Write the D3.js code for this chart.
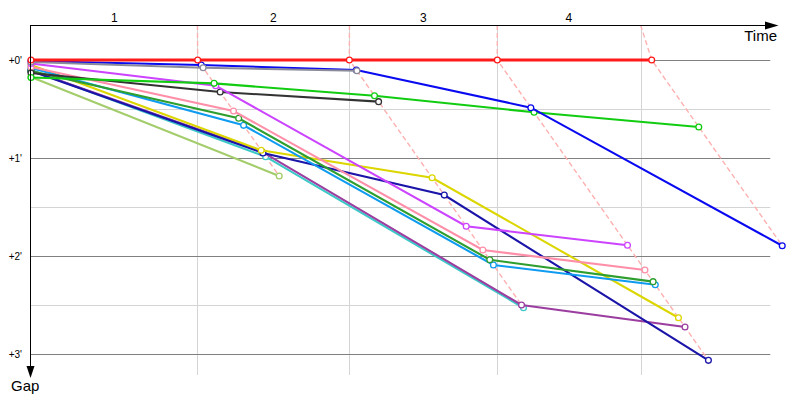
<!DOCTYPE html>
<html><head><meta charset="utf-8">
<script src="https://cdn.jsdelivr.net/npm/d3@7"></script>
<style>html,body{margin:0;padding:0;background:#fff;}svg{display:block;font-family:"Liberation Sans",Arial,sans-serif;}</style>
</head><body><svg id="c" width="800" height="400"></svg>
<script>
// ---- data (seconds) ----
const lapLabels = ["1", "2", "3", "4"];
const lapMarks = [145.0, 277.4, 406.2, 531.0];          // reference lap lines
const leaderTimes = [0, 145.2, 277.3, 406.2, 540.7];    // leader cumulative time at lap end
const gapTicks = [0, 60, 120, 180];
const gapTickLabels = ["+0'", "+1'", "+2'", "+3'"];
const gapMinor = [30, 90, 150];

const seriesColors = ["#a3cc6a", "#3cc8c8", "#9b3ea0", "#1a14a8", "#dcd600", "#0f9bf0",
  "#2e9e2e", "#ff8fa8", "#333333", "#cc44ff", "#11cc11", "#0a0af0", "#8a8a9a", "#ff1a1a"];
const seriesGaps = [
  [10.4, 71.0],                       // olive
  [6.1, 59.2, 151.7],                 // cyan
  [6.4, 56.3, 150.0, 163.5],          // purple
  [6.7, 56.9, 82.7, 183.9],           // navy
  [3.1, 55.3, 72.1, 157.8],           // yellow
  [4.9, 40.0, 125.5, 137.6],          // light blue
  [6.7, 35.7, 122.3, 135.7],          // dark green
  [4.3, 31.2, 116.3, 128.6],          // pink
  [8.0, 19.6, 25.5],                  // black
  [2.1, 15.7, 101.8, 113.4],          // magenta
  [10.7, 14.3, 21.9, 32.0, 41.0],     // green
  [0.6, 3.1, 6.1, 29.2, 113.7],       // blue
  [1.2, 4.7, 6.6],                    // gray
  [0, 0, 0, 0, 0]                     // red (leader)
];

// ---- scales ----
const svg = d3.select("#c");
const x = d3.scaleLinear().domain([0, 644]).range([31, 770.3]);
const y = d3.scaleLinear().domain([0, 180]).range([60, 354]);
const yTop = 25, yBottom = 375, xAxis = 30.5;
const crisp = v => Math.round(v) + 0.5;

const pts = seriesGaps.map(g => g.map((gap, k) => ({
  t: k === 0 ? 0 : leaderTimes[k] + gap, gap, k })));

// ---- grid ----
const grid = svg.append("g");
grid.selectAll("line.minor").data(gapMinor).join("line")
  .attr("x1", xAxis).attr("x2", x(644)).attr("y1", d => crisp(y(d))).attr("y2", d => crisp(y(d)))
  .attr("stroke", "#d4d4d4");
grid.selectAll("line.v").data(lapMarks).join("line")
  .attr("x1", d => crisp(x(d))).attr("x2", d => crisp(x(d))).attr("y1", yTop).attr("y2", yBottom)
  .attr("stroke", "#d4d4d4");
grid.selectAll("line.major").data(gapTicks).join("line")
  .attr("x1", xAxis).attr("x2", x(644)).attr("y1", d => crisp(y(d))).attr("y2", d => crisp(y(d)))
  .attr("stroke", "#808080");

// ---- lap connector dashed lines ----
const line = d3.line().x(d => x(d.t)).y(d => y(d.gap));
const lapLines = [1, 2, 3, 4].map(k => {
  const p = pts.map(s => s[k]).filter(Boolean).sort((a, b) => a.gap - b.gap);
  return [{ t: lapMarks[k - 1], gap: y.invert(yTop) }].concat(p);
});
svg.append("g").selectAll("path").data(lapLines).join("path")
  .attr("d", line).attr("fill", "none").attr("stroke", "#ffb0b0")
  .attr("stroke-width", 1.4).attr("stroke-dasharray", "5,3");

// ---- series ----
const sg = svg.append("g").selectAll("g").data(pts).join("g");
sg.append("path").attr("d", line).attr("fill", "none")
  .attr("stroke", (d, i) => seriesColors[i])
  .attr("stroke-width", (d, i) => i === pts.length - 1 ? 2.8 : 2.1);
sg.each(function (d, i) {
  d3.select(this).selectAll("circle").data(d).join("circle")
    .attr("cx", p => x(p.t)).attr("cy", p => y(p.gap)).attr("r", 2.9)
    .attr("fill", "#fff").attr("stroke", seriesColors[i]).attr("stroke-width", 1.3);
});

// ---- axes ----
const ax = svg.append("g");
ax.append("line").attr("x1", xAxis).attr("x2", 766).attr("y1", yTop + 0.5).attr("y2", yTop + 0.5)
  .attr("stroke", "#000");
ax.append("path").attr("d", `M765,${yTop - 3.5}L778.5,${yTop + 0.5}L765,${yTop + 4.5}Z`).attr("fill", "#000");
ax.append("line").attr("x1", xAxis).attr("x2", xAxis).attr("y1", yTop).attr("y2", 367)
  .attr("stroke", "#000");
ax.append("path").attr("d", `M${xAxis - 4},366L${xAxis},378L${xAxis + 4},366Z`).attr("fill", "#000");

ax.append("text").attr("x", 777).attr("y", 40.5).attr("text-anchor", "end")
  .attr("font-size", 15).text("Time");
ax.append("text").attr("x", 11).attr("y", 391).attr("font-size", 15).text("Gap");

const bounds = [0].concat(lapMarks);
ax.selectAll("text.lap").data(lapLabels).join("text")
  .attr("x", (d, i) => x((bounds[i] + bounds[i + 1]) / 2)).attr("y", 22)
  .attr("text-anchor", "middle").attr("font-size", 12).text(d => d);
ax.selectAll("text.gap").data(gapTicks).join("text")
  .attr("x", 22).attr("y", d => y(d) + 3.5).attr("text-anchor", "end")
  .attr("font-size", 10).text((d, i) => gapTickLabels[i]);
</script></body></html>
